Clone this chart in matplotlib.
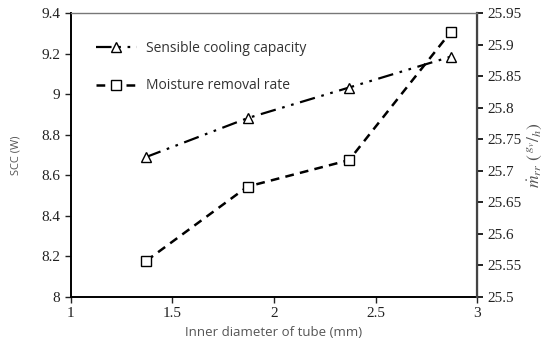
import matplotlib
matplotlib.use("Agg")
import matplotlib.pyplot as plt

# data
diam = [1.37, 1.87, 2.37, 2.87]
scc = [8.69, 8.882, 9.033, 9.185]
mrr = [25.557, 25.675, 25.717, 25.92]

SERIF = "Liberation Serif"
SANS = "Open Sans"
GREY = "#555555"

plt.rcParams["font.family"] = SERIF
plt.rcParams["mathtext.fontset"] = "stix"

fig = plt.figure(figsize=(5.49, 3.54), dpi=100)
ax = fig.add_axes([0.129, 0.161, 0.740, 0.802])
ax2 = ax.twinx()

l1, = ax.plot(diam, scc, color="black", lw=1.6,
              linestyle=(0, (7, 3, 1.2, 3, 1.2, 3)),
              marker="^", markersize=7.5, markerfacecolor="white",
              markeredgecolor="black", markeredgewidth=1.0,
              label="Sensible cooling capacity")
l2, = ax2.plot(diam, mrr, color="black", lw=1.8,
               linestyle=(0, (3.5, 2.5)),
               marker="s", markersize=6.5, markerfacecolor="white",
               markeredgecolor="black", markeredgewidth=1.0,
               label="Moisture removal rate")

ax.set_xlim(1, 3)
ax.set_ylim(8, 9.4)
ax2.set_ylim(25.5, 25.95)
ax.set_xticks([1, 1.5, 2, 2.5, 3])
ax.set_xticklabels(["1", "1.5", "2", "2.5", "3"])
ax.set_yticks([8, 8.2, 8.4, 8.6, 8.8, 9, 9.2, 9.4])
ax.set_yticklabels(["8", "8.2", "8.4", "8.6", "8.8", "9", "9.2", "9.4"])
ax2.set_yticks([25.5, 25.55, 25.6, 25.65, 25.7, 25.75, 25.8, 25.85, 25.9, 25.95])
ax2.set_yticklabels(["25.5", "25.55", "25.6", "25.65", "25.7", "25.75",
                     "25.8", "25.85", "25.9", "25.95"])

for a in (ax, ax2):
    a.tick_params(direction="out", length=4, width=1.0, labelsize=11,
                  colors="#222222")

ax.spines["left"].set_linewidth(1.4)
ax.spines["bottom"].set_linewidth(1.4)
ax2.spines["right"].set_linewidth(1.6)
ax2.spines["right"].set_color("#444444")
ax2.spines["top"].set_color("#777777")
ax2.spines["top"].set_linewidth(1.0)
ax.spines["top"].set_visible(False)
ax2.spines["left"].set_visible(False)
ax2.spines["bottom"].set_visible(False)
ax2.tick_params(axis="y", width=1.4)

ax.set_xlabel("Inner diameter of tube (mm)", fontfamily=SANS, fontsize=9.5,
              color=GREY, labelpad=4)
ax.set_ylabel("SCC (W)", fontfamily=SANS, fontsize=8, color=GREY, labelpad=14)
ax2.set_ylabel(r"$\dot{m}_{rr}\ (\,^{g_v}/_{h})$", fontsize=12.5, color=GREY,
               rotation=90, labelpad=3)

leg = ax.legend(handles=[l1, l2], loc="upper left", frameon=False,
                bbox_to_anchor=(0.03, 0.945), handlelength=3.0,
                labelspacing=1.6, handletextpad=0.6,
                prop={"family": SANS, "size": 10})
for t in leg.get_texts():
    t.set_color("#333333")

fig.savefig("out.png", dpi=100)
